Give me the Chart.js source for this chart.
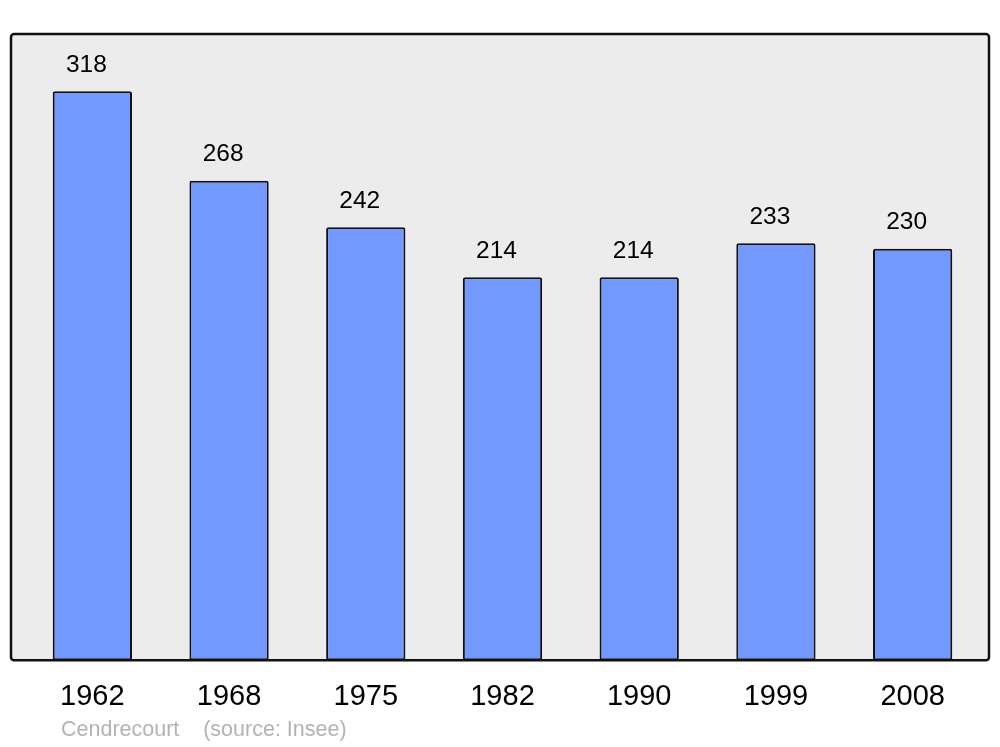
<!DOCTYPE html>
<html>
<head>
<meta charset="utf-8">
<script src="https://cdn.jsdelivr.net/npm/chart.js@4"></script>
<style>
  html, body { margin: 0; padding: 0; background: #fff; }
  #wrap { width: 1000px; height: 747px; }
</style>
</head>
<body>
<div id="wrap"><canvas id="graphique" width="1000" height="747"></canvas></div>
<script>
const annees = ['1962', '1968', '1975', '1982', '1990', '1999', '2008'];
const population = [318, 268, 242, 214, 214, 233, 230];
const commune = 'Cendrecourt';
const source = '(source: Insee)';

// cadre gris derrière les barres
const cadre = {
  id: 'cadre',
  beforeDatasetsDraw(chart) {
    const a = chart.chartArea, ctx = chart.ctx;
    ctx.save();
    ctx.beginPath();
    ctx.roundRect(a.left - 13, a.top, a.right - a.left + 21, a.bottom - a.top, 3);
    ctx.fillStyle = '#ececec';
    ctx.fill();
    ctx.restore();
  },
  afterDatasetsDraw(chart) {
    const a = chart.chartArea, ctx = chart.ctx;
    ctx.save();
    ctx.beginPath();
    ctx.roundRect(a.left - 13, a.top, a.right - a.left + 21, a.bottom - a.top, 3);
    ctx.lineWidth = 2.5;
    ctx.strokeStyle = '#111';
    ctx.stroke();

    // valeurs au-dessus des barres
    ctx.fillStyle = '#000';
    ctx.font = '24.5px "Liberation Sans", Arial, sans-serif';
    ctx.textAlign = 'center';
    ctx.textBaseline = 'middle';
    chart.getDatasetMeta(0).data.forEach((bar, i) => {
      ctx.fillText(population[i], bar.x - 6, bar.y - 26);
    });

    // pied
    ctx.fillStyle = '#b3b3b3';
    ctx.font = '21.5px "Liberation Sans", Arial, sans-serif';
    ctx.textAlign = 'left';
    ctx.fillText(commune + '    ' + source, a.left + 37, 730);
    ctx.restore();
  }
};

new Chart(document.getElementById('graphique'), {
  type: 'bar',
  data: {
    labels: annees,
    datasets: [{
      data: population,
      backgroundColor: '#7399ff',
      borderColor: '#111',
      borderWidth: 2,
      borderRadius: 2,
      borderSkipped: false,
      barPercentage: 0.58,
      categoryPercentage: 1
    }]
  },
  options: {
    responsive: false,
    animation: false,
    layout: { padding: { left: 24, right: 19, top: 34, bottom: 22 } },
    plugins: { legend: { display: false }, tooltip: { enabled: false } },
    scales: {
      x: {
        grid: { display: false },
        border: { display: false },
        ticks: {
          color: '#000',
          padding: 11,
          font: { size: 29, family: '"Liberation Sans", Arial, sans-serif' }
        }
      },
      y: { display: false, min: 0, max: 350 }
    }
  },
  plugins: [cadre]
});
</script>
</body>
</html>
